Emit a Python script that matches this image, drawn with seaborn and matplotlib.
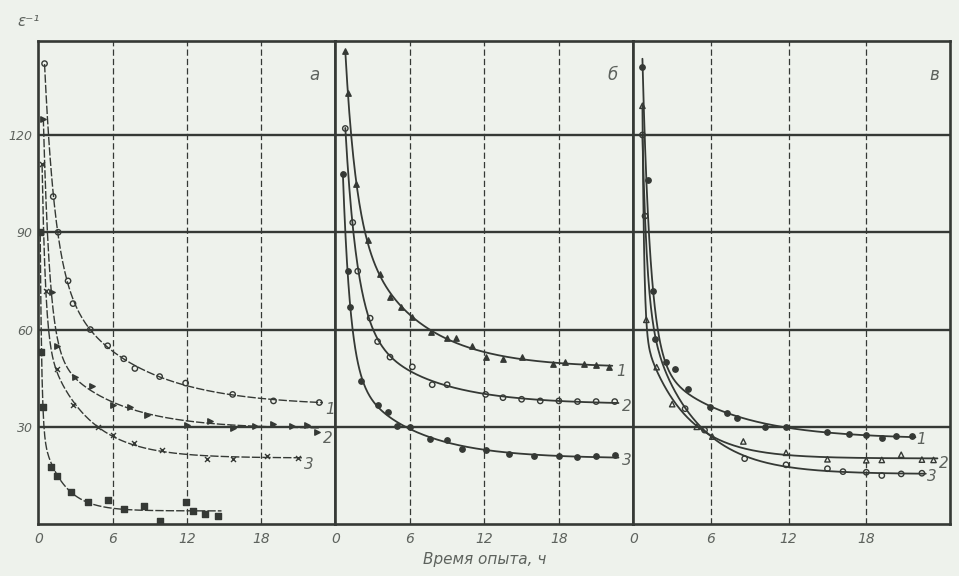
import numpy as np
import pandas as pd
import matplotlib
matplotlib.use("Agg")
import matplotlib.pyplot as plt
import seaborn as sns

# ---- measurements: elapsed time (h) and 1/ε for each run ----
# panel а
t_a1 = [0.5, 1.2, 1.6, 2.4, 2.8, 4.2, 5.6, 6.9, 7.8, 9.8, 11.9, 15.7, 19.0, 22.7]
e_a1 = [142, 101, 90, 75, 68, 60, 55, 51, 48, 45.5, 43.5, 40, 38, 37.5]
t_a2 = [0.4, 1.1, 1.5, 3.0, 4.3, 6.0, 7.4, 8.8, 12.0, 13.9, 15.7, 17.5, 19.0, 20.5, 21.7, 22.5]
e_a2 = [125, 71.5, 55, 45.5, 42.7, 36.8, 36.2, 33.7, 30.5, 31.9, 29.7, 30.3, 30.8, 30.2, 30.6, 28.5]
t_a3 = [0.3, 0.6, 1.5, 2.8, 4.8, 6.0, 7.7, 10.0, 13.6, 15.7, 18.5, 21.0]
e_a3 = [111, 72, 47.7, 36.8, 30, 27.6, 25.1, 23, 20, 20.2, 21, 20.5]
t_a4 = [0.15, 0.25, 0.4, 1.0, 1.5, 2.6, 4.0, 5.6, 6.9, 8.5, 9.8, 11.9, 12.5, 13.5, 14.5]
e_a4 = [90, 53, 36, 17.5, 15, 10, 6.8, 7.6, 4.6, 5.6, 1.0, 6.8, 4.0, 3.0, 2.5]

# panel б
t_b1 = [0.8, 1.0, 1.7, 2.6, 3.6, 4.4, 5.3, 6.2, 7.7, 9.0, 9.7, 11.0, 12.1, 13.5, 15.0, 17.5, 18.5, 20.0, 21.0, 22.0]
e_b1 = [146, 133, 105, 87.5, 77, 70, 67, 64, 59.4, 57.3, 57.3, 55, 51.5, 51, 51.5, 49.5, 50, 49.5, 49, 48.5]
t_b2 = [0.8, 1.4, 1.8, 2.8, 3.4, 4.4, 6.2, 7.8, 9.0, 12.1, 13.5, 15.0, 16.5, 18.0, 19.5, 21.0, 22.5]
e_b2 = [122, 93, 78, 63.5, 56.3, 51.5, 48.5, 43, 43, 40, 39, 38.5, 38, 38, 37.8, 37.8, 37.8]
t_b3 = [0.6, 1.0, 1.2, 2.1, 3.4, 4.2, 5.0, 6.0, 7.6, 9.0, 10.2, 12.1, 14.0, 16.0, 18.0, 19.5, 21.0, 22.5]
e_b3 = [108, 78, 67, 44, 36.8, 34.7, 30.3, 30, 26.4, 26, 23.2, 23, 21.5, 21, 21, 20.8, 21, 21.2]

# panel в
t_c1 = [0.7, 1.1, 1.5, 1.7, 2.5, 3.2, 4.2, 5.9, 7.2, 8.0, 10.2, 11.8, 15.0, 16.7, 18.0, 19.2, 20.3, 21.5]
e_c1 = [141, 106, 72, 57, 50, 47.8, 41.6, 36, 34.2, 32.7, 30, 30, 28.3, 27.9, 27.6, 26.6, 27.2, 27.2]
t_c2 = [0.7, 1.0, 1.8, 3.0, 4.9, 6.1, 8.5, 11.8, 15.0, 18.0, 19.2, 20.7, 22.3, 23.2]
e_c2 = [129, 63, 48.4, 37, 30, 27, 25.5, 22, 20, 19.7, 19.8, 21.4, 19.9, 19.8]
t_c3 = [0.7, 0.9, 4.0, 5.5, 8.6, 11.8, 15.0, 16.2, 18.0, 19.2, 20.7, 22.3]
e_c3 = [120, 95, 35.6, 29, 20.2, 18.3, 17.1, 16.2, 16, 15, 15.5, 15.7]

panel_letters = ["а", "б", "в"]
curve_numbers = ["1", "2", "3"]
x_ticks = [0, 6, 12, 18]
x_tick_labels = ["0", "6", "12", "18"]
y_ticks = [30, 60, 90, 120]
y_tick_labels = ["30", "60", "90", "120"]
x_title = "Время опыта, ч"
y_title = "ε⁻¹"

PAPER = "#eef2ec"
INK = "#353935"
SOFT = "#5d625d"


def smooth_curve(t, e, n=400):
    """Least-squares two-rate decay a + b1*exp(-t/τ1) + b2*exp(-t/τ2) through the points."""
    t = np.asarray(t, float)
    e = np.asarray(e, float)
    best = None
    for tau1 in np.geomspace(0.08, 2.5, 40):
        for tau2 in np.geomspace(1.5, 20.0, 40):
            if tau2 <= tau1 * 1.3:
                continue
            A = np.column_stack([np.ones_like(t), np.exp(-t / tau1), np.exp(-t / tau2)])
            coef, *_ = np.linalg.lstsq(A, e, rcond=None)
            if coef[1] < 0 or coef[2] < 0:
                continue
            sse = np.sum((A @ coef - e) ** 2)
            if best is None or sse < best[0]:
                best = (sse, tau1, tau2, coef)
    _, tau1, tau2, (a, b1, b2) = best
    tt = np.linspace(t.min(), t.max() + 0.3, n)
    return tt, a + b1 * np.exp(-tt / tau1) + b2 * np.exp(-tt / tau2)


sns.set_theme(style="white")
plt.rcParams["font.family"] = ["DejaVu Sans"]

fig = plt.figure(figsize=(9.59, 5.76), dpi=100, facecolor=PAPER)
gs = fig.add_gridspec(1, 3, left=0.040, right=0.991, top=0.929, bottom=0.090,
                      wspace=0, width_ratios=[297, 298, 317])
axes = [fig.add_subplot(gs[0, i]) for i in range(3)]
x_limits = [24.0, 24.0, 24.5]

panels = [
    [(t_a1, e_a1, "o", "none"), (t_a2, e_a2, ">", INK), (t_a3, e_a3, "x", INK), (t_a4, e_a4, "s", INK)],
    [(t_b1, e_b1, "^", INK), (t_b2, e_b2, "o", "none"), (t_b3, e_b3, "o", INK)],
    [(t_c1, e_c1, "o", INK), (t_c2, e_c2, "^", "none"), (t_c3, e_c3, "o", "none")],
]

for k, ax in enumerate(axes):
    ax.set_facecolor(PAPER)
    ax.set_xlim(0, x_limits[k])
    ax.set_ylim(0, 149)
    # grid: solid horizontals, dashed verticals
    for yv in y_ticks:
        ax.axhline(yv, color=INK, lw=1.7, zorder=1)
    for xv in x_ticks[1:]:
        ax.axvline(xv, color=INK, lw=0.9, ls=(0, (5, 2.5)), zorder=1)
    for side in ax.spines.values():
        side.set_color(INK)
        side.set_linewidth(1.9)

    for j, (t, e, mk, fc) in enumerate(panels[k]):
        tt, ee = smooth_curve(t, e)
        sns.lineplot(x=tt, y=ee, ax=ax, color=INK, lw=1.3 if k > 0 else 1.0,
                     ls="-" if k > 0 else (0, (6, 1.5)), sort=False, zorder=3)
        sns.scatterplot(x=t, y=e, ax=ax, marker=mk, s=15 if mk != "x" else 13,
                        facecolor=fc, edgecolor=INK, color=INK, linewidth=1.0, zorder=4)
        if j < 3:
            off = {0: (0.5, -2.0), 1: (0.6, -1.5), 2: (0.4, -1.0)}[k]
            ax.text(t[-1] + off[0], e[-1] + off[1], curve_numbers[j], color=SOFT,
                    fontsize=11, style="italic", va="center", ha="left", zorder=5)

    ax.set_xticks(x_ticks)
    ax.set_xticklabels(x_tick_labels, fontsize=10, style="italic", color=SOFT)
    ax.tick_params(axis="x", length=0, pad=6)
    ax.set_yticks(y_ticks)
    if k == 0:
        ax.set_yticklabels(y_tick_labels, fontsize=9, style="italic", color=SOFT)
        ax.tick_params(axis="y", length=0, pad=4)
    else:
        ax.set_yticklabels([])
        ax.tick_params(axis="y", length=0)
    ax.set_xlabel("")
    ax.set_ylabel("")
    ax.text(0.93 if k < 2 else 0.95, 0.93, panel_letters[k], transform=ax.transAxes,
            fontsize=12, style="italic", color=SOFT, ha="center", va="center")

axes[1].set_xlabel(x_title, fontsize=11, style="italic", color=SOFT, labelpad=4)
fig.text(0.030, 0.962, y_title, fontsize=11, style="italic", color=SOFT, ha="center", va="center")

fig.savefig("out.png", dpi=100, facecolor=PAPER)
